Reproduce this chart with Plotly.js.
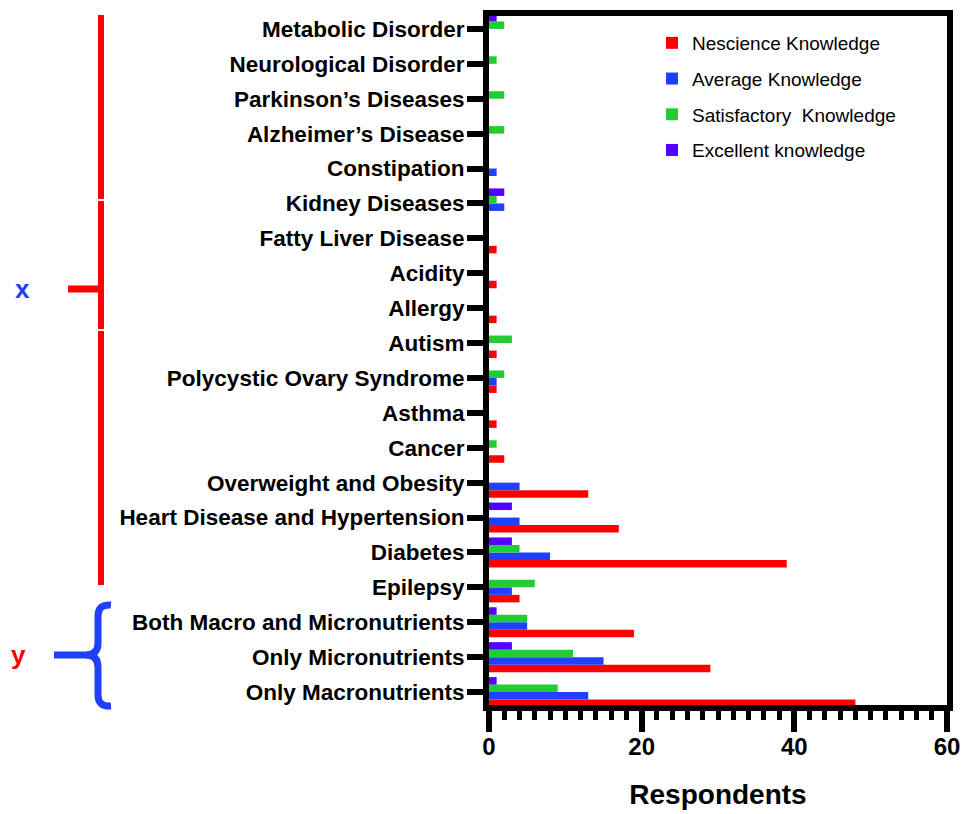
<!DOCTYPE html>
<html>
<head>
<meta charset="utf-8">
<script src="https://cdn.plot.ly/plotly-3.0.1.min.js"></script>
<style>html,body{margin:0;padding:0;background:#fff;}#chart{width:971px;height:814px;}</style>
</head>
<body>
<div id="chart"></div>
<script>
// Categories listed top to bottom as in the figure
const categories = [
  "Metabolic Disorder",
  "Neurological Disorder",
  "Parkinson’s Diseases",
  "Alzheimer’s Disease",
  "Constipation",
  "Kidney Diseases",
  "Fatty Liver Disease",
  "Acidity",
  "Allergy",
  "Autism",
  "Polycystic Ovary Syndrome",
  "Asthma",
  "Cancer",
  "Overweight and Obesity",
  "Heart Disease and Hypertension",
  "Diabetes",
  "Epilepsy",
  "Both Macro and Micronutrients",
  "Only Micronutrients",
  "Only Macronutrients"
];
const nescience    = [0, 0, 0, 0, 0, 0, 1, 1, 1, 1, 1, 1, 2, 13, 17, 39, 4, 19, 29, 48];
const average      = [0, 0, 0, 0, 1, 2, 0, 0, 0, 0, 1, 0, 0, 4, 4, 8, 3, 5, 15, 13];
const satisfactory = [2, 1, 2, 2, 0, 1, 0, 0, 0, 3, 2, 0, 1, 0, 0, 4, 6, 5, 11, 9];
const excellent    = [1, 0, 0, 0, 0, 2, 0, 0, 0, 0, 0, 0, 0, 0, 3, 3, 0, 1, 3, 1];
const seriesNames  = ["Nescience Knowledge", "Average Knowledge", "Satisfactory  Knowledge", "Excellent knowledge"];
const seriesColors = ["#FF0000", "#1F40FF", "#22CC33", "#5500FF"];
const xTickVals = [0, 20, 40, 60];

const FONT = "Arial, 'Liberation Sans', Helvetica, sans-serif";
const seriesValues = [nescience, average, satisfactory, excellent];

const traces = seriesValues.map((vals, i) => ({
  type: 'bar',
  orientation: 'h',
  name: seriesNames[i],
  x: vals,
  y: categories,
  marker: {color: seriesColors[i], line: {width: 0}},
  legendgroup: 'g' + i,
  hoverinfo: 'x+y+name'
}));

// pixel -> paper helpers for decorations outside the plot
const L = 489, R = 947, T = 16, B = 705;
const px = v => (v - L) / (R - L);
const py = v => (B - v) / (B - T);

const red = "#FF0000", blue = "#2040FF";
const shapes = [
  // red vertical line (with small gaps like in the figure)
  {type:'line', xref:'paper', yref:'paper', x0:px(101), x1:px(101), y0:py(15), y1:py(199), line:{color:red, width:6}},
  {type:'line', xref:'paper', yref:'paper', x0:px(101), x1:px(101), y0:py(201), y1:py(329), line:{color:red, width:6}},
  {type:'line', xref:'paper', yref:'paper', x0:px(101), x1:px(101), y0:py(331), y1:py(585), line:{color:red, width:6}},
  {type:'line', xref:'paper', yref:'paper', x0:px(68), x1:px(101), y0:py(289), y1:py(289), line:{color:red, width:7}},
  // blue brace
  {type:'path', xref:'paper', yref:'paper',
   path: `M${px(111)},${py(605)} Q${px(98)},${py(604)} ${px(98)},${py(616)} L${px(98)},${py(643)} Q${px(98)},${py(655)} ${px(86)},${py(655)} Q${px(98)},${py(655)} ${px(98)},${py(667)} L${px(98)},${py(695)} Q${px(98)},${py(707)} ${px(111)},${py(706)}`,
   line:{color:blue, width:7}},
  {type:'line', xref:'paper', yref:'paper', x0:px(54), x1:px(88), y0:py(655), y1:py(655), line:{color:blue, width:7}}
];

const annotations = [
  {xref:'paper', yref:'paper', x:px(22), y:py(289), text:'x', showarrow:false, xanchor:'center', yanchor:'middle',
   font:{family:FONT, size:26, color:blue, weight:700}},
  {xref:'paper', yref:'paper', x:px(18), y:py(655), text:'y', showarrow:false, xanchor:'center', yanchor:'middle',
   font:{family:FONT, size:26, color:red, weight:700}}
];

const layout = {
  width: 971, height: 814,
  margin: {l: L, r: 971 - R, t: T, b: 814 - B, pad: 0},
  paper_bgcolor: '#fff', plot_bgcolor: '#fff',
  barmode: 'group', bargap: 0.14, bargroupgap: 0,
  font: {family: FONT, color: '#000'},
  showlegend: true,
  legend: {x: px(652), y: py(24), xanchor: 'left', yanchor: 'top', bgcolor: 'rgba(0,0,0,0)',
           font: {family: FONT, size: 19, color: '#000'}, traceorder: 'grouped', tracegroupgap: 8},
  xaxis: {
    range: [0, 60], tickmode: 'array', tickvals: xTickVals, ticktext: xTickVals.map(String),
    showline: true, linewidth: 6, linecolor: '#000', mirror: true,
    ticks: 'outside', ticklen: 21, tickwidth: 6, tickcolor: '#000',
    ticklabelstandoff: -6,
    tickfont: {family: FONT, size: 24, color: '#000', weight: 700},
    showgrid: false, zeroline: false, automargin: false,
    minor: {dtick: 2, tick0: 0, ticks: 'outside', ticklen: 9, tickwidth: 5, tickcolor: '#000', showgrid: false},
    title: {text: 'Respondents', font: {family: FONT, size: 28, color: '#000', weight: 700}, standoff: 28}
  },
  yaxis: {
    type: 'category', categoryorder: 'array', categoryarray: categories.slice().reverse(),
    range: [-0.37, 19.37],
    showline: true, linewidth: 6, linecolor: '#000', mirror: true,
    ticks: 'outside', ticklen: 16, tickwidth: 6, tickcolor: '#000',
    ticklabelstandoff: -2,
    tickfont: {family: FONT, size: 22.5, color: '#000', weight: 700},
    showgrid: false, zeroline: false, automargin: false
  },
  shapes: shapes,
  annotations: annotations
};

Plotly.newPlot('chart', traces, layout, {displayModeBar: false, staticPlot: true});
</script>
</body>
</html>
